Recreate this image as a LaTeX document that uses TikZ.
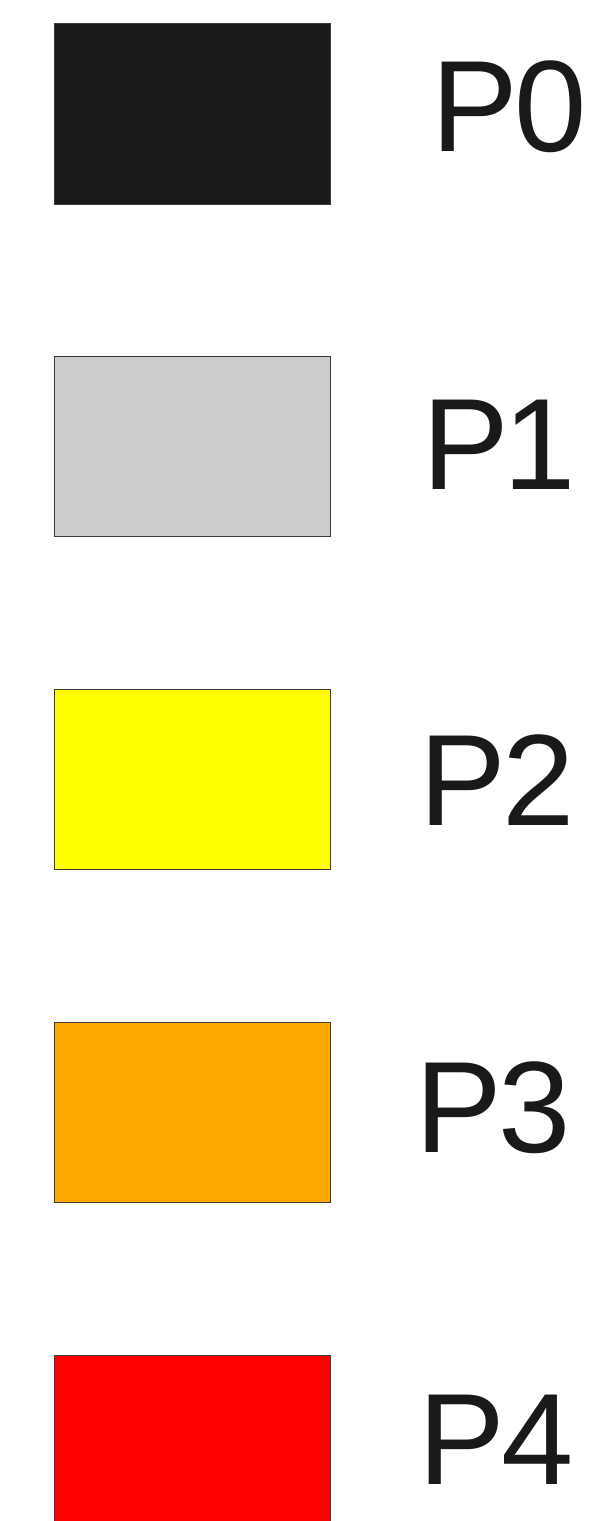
\documentclass[tikz,border=0pt]{standalone}
\usepackage{fontspec}
\setmainfont{Liberation Sans}
\definecolor{ink}{HTML}{181A19}
\definecolor{pgray}{HTML}{CCCCCC}
\definecolor{pyellow}{HTML}{FFFF00}
\definecolor{porange}{HTML}{FFA800}
\definecolor{pred}{HTML}{FF0000}
\begin{document}
\begin{tikzpicture}[x=1pt,y=-1pt,
  swatch/.style={draw=ink!85,line width=1pt},
  lab/.style={anchor=base west,inner sep=0pt,text=ink,font=\fontsize{130}{130}\selectfont}]
\useasboundingbox (0,0) rectangle (597,1521);
\clip (0,0) rectangle (597,1521);
\fill[white] (0,0) rectangle (597,1521);
\path[swatch,fill=ink] (54,23) rectangle (330,204) coordinate (s0);
\path[swatch,fill=pgray] (54,356) rectangle (330,536) coordinate (s1);
\path[swatch,fill=pyellow] (54,689) rectangle (330,869) coordinate (s2);
\path[swatch,fill=porange] (54,1022) rectangle (330,1202) coordinate (s3);
\path[swatch,fill=pred] (54,1355) rectangle (330,1540) coordinate (s4);
\node[lab] (p0) at (431,151) {P\kern-3pt 0};
\node[lab] (p1) at (422,489) {P\kern-5pt 1};
\node[lab] (p2) at (419,825) {P\kern-3pt 2};
\node[lab] (p3) at (415,1152) {P\kern-3pt 3};
\node[lab] (p4) at (418,1484) {P\kern-3pt 4};
\end{tikzpicture}
\end{document}
